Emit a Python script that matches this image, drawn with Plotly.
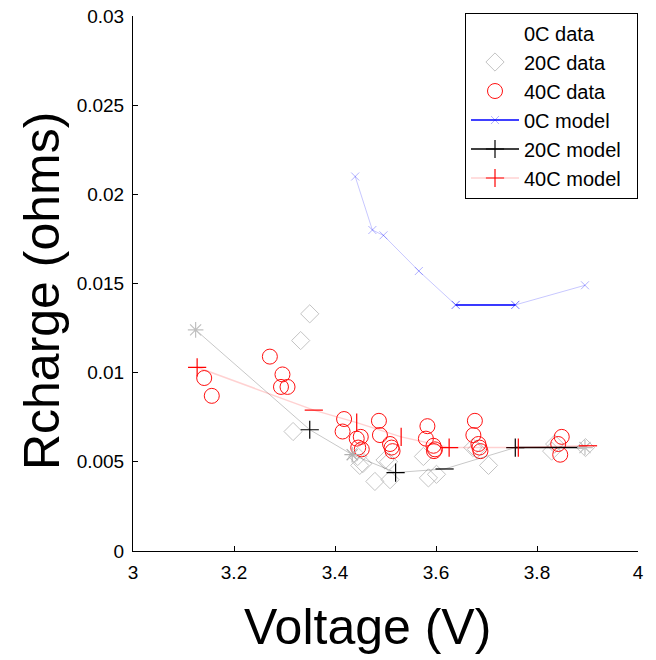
import plotly.graph_objects as go

# ---- data ----
v0_data = [None]
r0_data = [None]

v20_data = [3.317, 3.332, 3.350, 3.445, 3.449, 3.455, 3.479, 3.499, 3.506, 3.509,
            3.575, 3.585, 3.601, 3.673, 3.680, 3.704, 3.829, 3.835, 3.896]
r20_data = [0.0067, 0.0118, 0.0133, 0.0053, 0.0048, 0.0049, 0.0039, 0.0051, 0.0050, 0.0040,
            0.0053, 0.0041, 0.0043, 0.0058, 0.0057, 0.0048, 0.0056, 0.0060, 0.0058]

v40_data = [3.141, 3.156, 3.271, 3.296, 3.293, 3.306,
            3.418, 3.415, 3.443, 3.451, 3.446, 3.453,
            3.487, 3.489, 3.509, 3.512, 3.514,
            3.583, 3.580, 3.595, 3.596, 3.598,
            3.677, 3.674, 3.684, 3.686, 3.688,
            3.849, 3.842, 3.846]
r40_data = [0.0097, 0.0087, 0.0109, 0.0099, 0.0092, 0.0092,
            0.0074, 0.0067, 0.0063, 0.0064, 0.0058, 0.0057,
            0.0073, 0.0065, 0.0060, 0.0058, 0.0056,
            0.0070, 0.0063, 0.0059, 0.0056, 0.0057,
            0.0073, 0.0065, 0.0060, 0.0058, 0.0056,
            0.0064, 0.0060, 0.0054]

v0_model = [3.440, 3.474, 3.496, 3.566, 3.639, 3.757, 3.895]
r0_model = [0.0210, 0.0180, 0.0177, 0.0157, 0.0138, 0.0138, 0.0149]

v20_model = [3.124, 3.350, 3.434, 3.520, 3.617, 3.757, 3.895]
r20_model = [0.0124, 0.0068, 0.0054, 0.0044, 0.0046, 0.0058, 0.0058]

v40_model = [3.127, 3.358, 3.443, 3.531, 3.626, 3.763, 3.901]
r40_model = [0.0103, 0.0079, 0.0072, 0.0064, 0.0058, 0.0058, 0.0059]

series_names = ["0C data", "20C data", "40C data", "0C model", "20C model", "40C model"]

FONT = "Arial, Liberation Sans, sans-serif"
PAD = "\u00a0\u00a0"

# marker styling per model point (mimics the rendering of the original)
sym20 = ["asterisk", "cross-thin", "asterisk", "cross-thin", "line-ew", "cross-thin", "asterisk"]
col20 = ["#c0c0c0", "#000000", "#b0b0b0", "#000000", "#000000", "#000000", "#c0c0c0"]
sym40 = ["cross-thin", "line-ew", "line-ns", "line-ns", "cross-thin", "line-ns", "line-ew"]

fig = go.Figure()

# ---- data traces ----
fig.add_trace(go.Scatter(x=v0_data, y=r0_data, mode="markers", name=series_names[0] + PAD,
                         marker=dict(symbol="circle", color="rgba(0,0,0,0)", size=10),
                         legendrank=1))
fig.add_trace(go.Scatter(x=v20_data, y=r20_data, mode="markers", name=series_names[1] + PAD,
                         marker=dict(symbol="diamond-open", color="#c4c4c4", size=14,
                                     line=dict(width=1)),
                         legendrank=2))
fig.add_trace(go.Scatter(x=v40_data, y=r40_data, mode="markers", name=series_names[2] + PAD,
                         marker=dict(symbol="circle-open", color="#ff1010", size=15,
                                     line=dict(width=1)),
                         legendrank=3))

# ---- 0C model ----
fig.add_trace(go.Scatter(x=v0_model, y=r0_model, mode="lines+markers", showlegend=False,
                         line=dict(color="rgba(0,0,255,0.22)", width=1),
                         marker=dict(symbol="x-thin", size=8, color="rgba(0,0,255,0.3)",
                                     line=dict(width=1, color="rgba(0,0,255,0.3)"))))
fig.add_trace(go.Scatter(x=v0_model[4:6], y=r0_model[4:6], mode="lines+markers",
                         name=series_names[3] + PAD,
                         line=dict(color="#0000ff", width=1.5),
                         marker=dict(symbol="x-thin", size=8, color="rgba(0,0,255,0.3)",
                                     line=dict(width=1, color="rgba(0,0,255,0.3)")),
                         legendrank=4))

# ---- 20C model ----
fig.add_trace(go.Scatter(x=v20_model, y=r20_model, mode="lines", showlegend=False,
                         line=dict(color="rgba(0,0,0,0.22)", width=1)))
fig.add_trace(go.Scatter(x=v20_model[5:7], y=r20_model[5:7], mode="lines", showlegend=False,
                         line=dict(color="#000000", width=1.5)))
fig.add_trace(go.Scatter(x=v20_model, y=r20_model, mode="markers", showlegend=False,
                         marker=dict(symbol=sym20, size=13, color=col20,
                                     line=dict(width=1.2, color=col20))))
fig.add_trace(go.Scatter(x=[None], y=[None], mode="lines+markers",
                         name=series_names[4] + PAD,
                         line=dict(color="#000000", width=1.5),
                         marker=dict(symbol="cross-thin", size=13, color="#000000",
                                     line=dict(width=1.2, color="#000000")),
                         legendrank=5))

# ---- 40C model ----
fig.add_trace(go.Scatter(x=v40_model, y=r40_model, mode="lines", showlegend=False,
                         line=dict(color="rgba(255,0,0,0.18)", width=1.5)))
fig.add_trace(go.Scatter(x=v40_model, y=r40_model, mode="markers", showlegend=False,
                         marker=dict(symbol=sym40, size=13, color="#ff0000",
                                     line=dict(width=1.2, color="#ff0000"))))
fig.add_trace(go.Scatter(x=[None], y=[None], mode="lines+markers",
                         name=series_names[5] + PAD,
                         line=dict(color="rgba(255,0,0,0.18)", width=1.5),
                         marker=dict(symbol="cross-thin", size=13, color="#ff0000",
                                     line=dict(width=1.2, color="#ff0000")),
                         legendrank=6))

fig.update_layout(
    width=656, height=660,
    margin=dict(l=133, r=18, t=16, b=109, autoexpand=False),
    paper_bgcolor="white", plot_bgcolor="white",
    font=dict(family=FONT, color="black", size=19),
    showlegend=True,
    legend=dict(x=1.0, xanchor="right", y=1.0065, yanchor="top",
                bgcolor="white", bordercolor="black", borderwidth=1,
                font=dict(size=20, family=FONT), tracegroupgap=0,
                itemwidth=48),
    xaxis=dict(range=[3, 4], tick0=3, dtick=0.2, showgrid=False, zeroline=False,
               showline=True, linecolor="black", linewidth=1,
               ticks="inside", ticklen=5, tickcolor="black",
               tickfont=dict(size=19, family=FONT), ticklabelstandoff=4),
    yaxis=dict(range=[0, 0.03], tick0=0, dtick=0.005, showgrid=False, zeroline=False,
               showline=True, linecolor="black", linewidth=1,
               ticks="inside", ticklen=5, tickcolor="black",
               tickfont=dict(size=19, family=FONT), ticklabelstandoff=4),
    annotations=[
        dict(text="Voltage (V)", xref="paper", yref="paper", x=0.465, y=-0.142,
             xanchor="center", yanchor="middle", showarrow=False,
             font=dict(size=50, family=FONT, color="black")),
        dict(text="Rcharge (ohms)", xref="paper", yref="paper", x=-0.18, y=0.486,
             xanchor="center", yanchor="middle", showarrow=False, textangle=-90,
             font=dict(size=50, family=FONT, color="black")),
    ],
)

fig.write_html("out.html")
